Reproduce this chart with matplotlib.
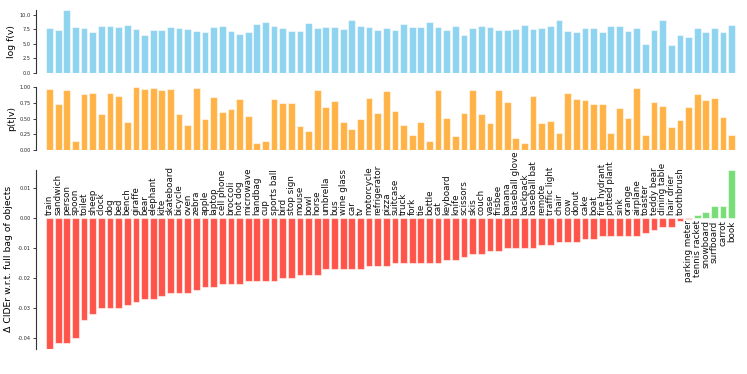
import numpy as np
import matplotlib
matplotlib.use("Agg")
import matplotlib.pyplot as plt

plt.rcParams["font.family"] = "DejaVu Sans"
plt.rcParams["axes.unicode_minus"] = False

# COCO categories, sorted by change in CIDEr
categories = [
    "train", "sandwich", "person", "spoon", "toilet", "sheep", "clock", "dog",
    "bed", "bench", "giraffe", "bear", "elephant", "kite", "skateboard",
    "bicycle", "oven", "zebra", "apple", "laptop", "cell phone", "broccoli",
    "hot dog", "microwave", "handbag", "cup", "sports ball", "bird",
    "stop sign", "mouse", "bowl", "horse", "umbrella", "bus", "wine glass",
    "car", "tv", "motorcycle", "refrigerator", "pizza", "suitcase", "truck",
    "fork", "tie", "bottle", "cat", "keyboard", "knife", "scissors", "skis",
    "couch", "vase", "frisbee", "banana", "baseball glove", "backpack",
    "baseball bat", "remote", "traffic light", "chair", "cow", "donut", "cake",
    "boat", "fire hydrant", "potted plant", "sink", "orange", "airplane",
    "toaster", "teddy bear", "dining table", "hair drier", "toothbrush",
    "parking meter", "tennis racket", "snowboard", "surfboard", "carrot", "book",
]

log_freq = [
    7.77, 7.37, 10.74, 7.83, 7.71, 7.03, 8.06, 8.00, 7.83, 8.23,
    7.54, 6.51, 7.31, 7.37, 7.83, 7.71, 7.60, 7.20, 7.09, 7.83,
    8.06, 7.20, 6.69, 6.97, 8.46, 8.80, 8.00, 7.71, 7.14, 7.20,
    8.51, 7.66, 7.89, 7.89, 7.49, 9.09, 8.06, 7.83, 7.43, 7.71,
    7.43, 8.40, 7.89, 7.89, 8.69, 7.94, 7.31, 8.06, 6.51, 7.71,
    8.06, 7.83, 7.37, 7.37, 7.54, 8.23, 7.54, 7.71, 8.00, 9.09,
    7.26, 6.97, 7.66, 7.66, 7.09, 8.06, 8.06, 7.14, 7.71, 4.97,
    7.31, 9.03, 4.80, 6.51, 6.17, 7.77, 7.09, 7.71, 7.09, 8.23,
]

p_text = [
    0.968, 0.733, 0.952, 0.134, 0.893, 0.914, 0.578, 0.904, 0.856, 0.439,
    1.000, 0.979, 0.984, 0.957, 0.968, 0.572, 0.390, 0.995, 0.487, 0.850,
    0.599, 0.652, 0.818, 0.535, 0.112, 0.144, 0.807, 0.749, 0.749, 0.374,
    0.294, 0.957, 0.679, 0.786, 0.444, 0.332, 0.487, 0.824, 0.583, 0.936,
    0.620, 0.390, 0.230, 0.449, 0.144, 0.963, 0.508, 0.214, 0.583, 0.952,
    0.578, 0.428, 0.963, 0.765, 0.187, 0.102, 0.856, 0.428, 0.455, 0.267,
    0.904, 0.813, 0.802, 0.727, 0.727, 0.267, 0.674, 0.503, 0.984, 0.241,
    0.770, 0.706, 0.358, 0.481, 0.679, 0.888, 0.797, 0.834, 0.524, 0.235,
]

d_cider = [
    -0.0437, -0.0417, -0.0417, -0.040, -0.034, -0.032, -0.030, -0.030, -0.030, -0.029,
    -0.028, -0.027, -0.027, -0.026, -0.025, -0.025, -0.025, -0.024, -0.023, -0.023,
    -0.022, -0.022, -0.022, -0.021, -0.021, -0.021, -0.021, -0.020, -0.020, -0.019,
    -0.019, -0.019, -0.017, -0.017, -0.017, -0.017, -0.017, -0.016, -0.016, -0.016,
    -0.015, -0.015, -0.015, -0.015, -0.015, -0.015, -0.014, -0.014, -0.013, -0.012,
    -0.012, -0.011, -0.011, -0.010, -0.010, -0.010, -0.010, -0.009, -0.009, -0.008,
    -0.008, -0.008, -0.007, -0.007, -0.006, -0.006, -0.006, -0.006, -0.006, -0.005,
    -0.004, -0.003, -0.003, -0.001, -0.0003, 0.001, 0.002, 0.004, 0.004, 0.0159,
]

x = np.arange(len(categories))
edge = (1, 1, 1, 0.55)
tick_fs = 3.6

fig = plt.figure(figsize=(7.47, 3.74), dpi=100)
left, width = 0.0478, 0.9387
ax1 = fig.add_axes([left, 0.8048, width, 0.1677])
ax2 = fig.add_axes([left, 0.5997, width, 0.1669])
ax3 = fig.add_axes([left, 0.0676, width, 0.4779])


def style(ax):
    for s in ["top", "right", "bottom"]:
        ax.spines[s].set_visible(False)
    ax.spines["left"].set_linewidth(0.8)
    ax.spines["left"].set_color("#333333")
    ax.set_xticks([])
    ax.tick_params(axis="y", labelsize=tick_fs, length=2, width=0.6, pad=1.5, colors="#222222")
    ax.set_xlim(-1.6, len(categories) - 0.4)


ax1.bar(x, log_freq, width=0.78, color="#8ED3F0", edgecolor=edge, linewidth=0.8)
style(ax1)
ax1.set_ylim(0, max(log_freq))
ax1.set_yticks([0, 2.5, 5, 7.5, 10])
ax1.set_yticklabels(["0.0", "2.5", "5.0", "7.5", "10.0"])
ax1.set_ylabel("log f(v)", fontsize=6.7)
ax1.yaxis.set_label_coords(-0.028, 0.5)

ax2.bar(x, p_text, width=0.78, color="#FFB347", edgecolor=edge, linewidth=0.8)
style(ax2)
ax2.set_ylim(0, 1.0)
ax2.set_yticks([0, 0.25, 0.5, 0.75, 1.0])
ax2.set_yticklabels(["0.00", "0.25", "0.50", "0.75", "1.00"])
ax2.set_ylabel("p(t|v)", fontsize=6.7)
ax2.yaxis.set_label_coords(-0.028, 0.5)

colors = ["#FF5449" if v < 0 else "#77DD77" for v in d_cider]
ax3.bar(x, d_cider, width=0.78, color=colors, edgecolor=edge, linewidth=0.8)
style(ax3)
ax3.set_ylim(min(d_cider), max(d_cider))
ax3.set_yticks([-0.04, -0.03, -0.02, -0.01, 0.0, 0.01])
ax3.set_yticklabels(["-0.04", "-0.03", "-0.02", "-0.01", "0.00", "0.01"])
ax3.set_ylabel("\u0394 CIDEr w.r.t. full bag of objects", fontsize=6.7)
ax3.yaxis.set_label_coords(-0.033, 0.5)

# labels above the zero line for clearly negative bars, below otherwise
for xi, name, v in zip(x, categories, d_cider):
    if v < -0.0005:
        ax3.text(xi, 0.0009, name, rotation=90, ha="center", va="bottom",
                 fontsize=6.3, color="#111111")
    else:
        ax3.text(xi, -0.0009, name, rotation=90, ha="center", va="top",
                 fontsize=6.3, color="#111111")

fig.savefig("out.png", dpi=100)
